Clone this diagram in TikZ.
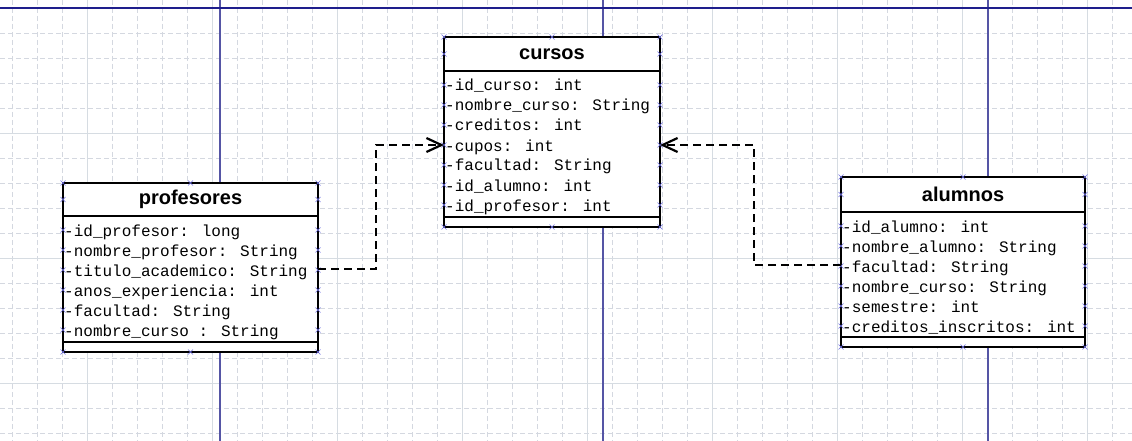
\documentclass[tikz,border=0pt]{standalone}
\usepackage{fontspec}
\setmainfont{Liberation Sans}
\newfontfamily\monof{Liberation Mono}
\usetikzlibrary{arrows.meta}
\definecolor{gridd}{RGB}{212,216,224}
\definecolor{grids}{RGB}{214,220,226}
\definecolor{pageblueh}{RGB}{30,30,140}
\definecolor{pagebluev}{RGB}{85,85,165}
\definecolor{handlec}{RGB}{110,110,225}
\tikzset{
  classbox/.style={draw=black, line width=2.5pt, fill=white, inner sep=0pt, outer sep=0pt, anchor=north west},
  sepline/.style={black, line width=2.5pt},
  hdr/.style={font=\fontsize{20}{24}\selectfont\bfseries, inner sep=0pt},
  attr/.style={font=\monof\fontsize{16}{18}\selectfont, inner sep=0pt, anchor=base west},
  dep/.style={line width=2.5pt, dash pattern=on 8pt off 5pt, -{Straight Barb[length=15pt,width=14pt,line width=2.2pt]}},
  griddash/.style={gridd, line width=0.8pt, dash pattern=on 5pt off 3pt},
  gridsolid/.style={grids, line width=0.9pt},
  handle/.style={handlec, line width=0.6pt},
}
\begin{document}
\begin{tikzpicture}[x=1pt,y=-1pt]
\useasboundingbox (0,0) rectangle (1132,441);
\fill[white] (0,0) rectangle (1132,441);
% grid
\foreach \x in {12,37,...,1137} \draw[griddash] (\x,0) -- (\x,441);
\foreach \y in {33,58,...,441} \draw[griddash] (0,\y) -- (1132,\y);
\foreach \x in {87,212,...,1132} \draw[gridsolid] (\x,0) -- (\x,441);
\foreach \y in {133,258,383} \draw[gridsolid] (0,\y) -- (1132,\y);
% page lines
\foreach \x in {220,603,988} \draw[pagebluev, line width=1.8pt] (\x,0) -- (\x,441);
\draw[pageblueh, line width=1.6pt] (0,8) -- (1132,8);

% boxes
\node[classbox, minimum width=216pt, minimum height=190pt] (cursos) at (444,37) {};
\node[classbox, minimum width=255pt, minimum height=169pt] (profesores) at (63,183) {};
\node[classbox, minimum width=244pt, minimum height=170pt] (alumnos) at (841,177) {};

\draw[sepline] (cursos.west |- 0,71) -- (cursos.east |- 0,71);
\draw[sepline] (cursos.west |- 0,217) -- (cursos.east |- 0,217);
\draw[sepline] (profesores.west |- 0,216) -- (profesores.east |- 0,216);
\draw[sepline] (profesores.west |- 0,342) -- (profesores.east |- 0,342);
\draw[sepline] (alumnos.west |- 0,212) -- (alumnos.east |- 0,212);
\draw[sepline] (alumnos.west |- 0,337) -- (alumnos.east |- 0,337);

% headers
\node[hdr] (cursos-t) at (552,54) {cursos};
\node[hdr] (profesores-t) at (190.5,199.5) {profesores};
\node[hdr] (alumnos-t) at (963,194.5) {alumnos};

% attributes
\node[attr] (c1) at (445,91) {-id\_curso: int};
\node[attr] (c2) at (445,111) {-nombre\_curso: String};
\node[attr] (c3) at (445,131) {-creditos: int};
\node[attr] (c4) at (445,151) {-cupos: int};
\node[attr] (c5) at (445,171) {-facultad: String};
\node[attr] (c6) at (445,191) {-id\_alumno: int};
\node[attr] (c7) at (445,211) {-id\_profesor: int};

\node[attr] (p1) at (64,236) {-id\_profesor: long};
\node[attr] (p2) at (64,256) {-nombre\_profesor: String};
\node[attr] (p3) at (64,276) {-titulo\_academico: String};
\node[attr] (p4) at (64,296) {-anos\_experiencia: int};
\node[attr] (p5) at (64,316) {-facultad: String};
\node[attr] (p6) at (64,336) {-nombre\_curso : String};

\node[attr] (a1) at (842,232) {-id\_alumno: int};
\node[attr] (a2) at (842,252) {-nombre\_alumno: String};
\node[attr] (a3) at (842,272) {-facultad: String};
\node[attr] (a4) at (842,292) {-nombre\_curso: String};
\node[attr] (a5) at (842,312) {-semestre: int};
\node[attr] (a6) at (842,332) {-creditos\_inscritos: int};

% handles
\foreach \L/\R/\T/\B/\H/\F/\n in {444/660/37/227/54/85/7, 63/318/183/352/199.5/230/6, 841/1085/177/347/194.5/226/6}{
  \pgfmathsetmacro{\M}{(\L+\R)/2}
  \foreach \px/\py in {\L/\T,\R/\T,\L/\B,\R/\B,\M/\T,\M/\B,\L/\H,\R/\H}{
    \draw[handle] (\px-2.5,\py-2.5) -- ++(5,5) (\px-2.5,\py+2.5) -- ++(5,-5);
  }
  \foreach \i in {1,...,\n}{
    \pgfmathsetmacro{\yy}{\F+20*(\i-1)}
    \draw[handle] (\L-2.5,\yy-2.5) -- ++(5,5) (\L-2.5,\yy+2.5) -- ++(5,-5);
    \draw[handle] (\R-2.5,\yy-2.5) -- ++(5,5) (\R-2.5,\yy+2.5) -- ++(5,-5);
  }
}

% connectors
\coordinate (k1) at (376,145);
\coordinate (k2) at (754,145);
\draw[dep] (profesores.east |- 0,269) -| (k1) -- (cursos.west |- k1);
\draw[dep] (alumnos.west |- 0,265) -| (k2) -- (cursos.east |- k2);
\end{tikzpicture}
\end{document}
